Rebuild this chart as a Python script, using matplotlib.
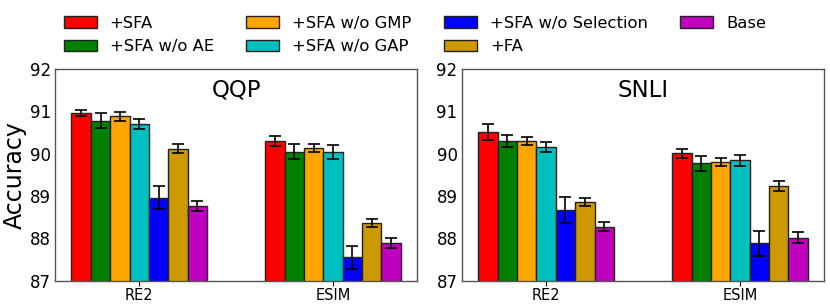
import numpy as np
import matplotlib
matplotlib.use('Agg')
import matplotlib.pyplot as plt

models = ['RE2', 'ESIM']
variants = ['+SFA', '+SFA w/o AE', '+SFA w/o GMP', '+SFA w/o GAP',
            '+SFA w/o Selection', '+FA', 'Base']
colors = ['#ff0000', '#008000', '#ffa500', '#00bfbf', '#0000ff', '#cc9900', '#bf00bf']

# accuracy per variant, [RE2, ESIM]
qqp_acc = [[90.96, 90.30], [90.78, 90.05], [90.88, 90.13], [90.70, 90.04],
           [88.96, 87.55], [90.12, 88.37], [88.77, 87.90]]
qqp_err = [[0.08, 0.11], [0.18, 0.18], [0.10, 0.10], [0.11, 0.16],
           [0.27, 0.27], [0.11, 0.09], [0.12, 0.12]]

snli_acc = [[90.51, 90.01], [90.30, 89.77], [90.30, 89.81], [90.16, 89.84],
            [88.67, 87.88], [88.86, 89.24], [88.28, 88.02]]
snli_err = [[0.18, 0.11], [0.14, 0.18], [0.10, 0.09], [0.11, 0.13],
            [0.30, 0.29], [0.10, 0.11], [0.11, 0.13]]

panels = [('QQP', qqp_acc, qqp_err), ('SNLI', snli_acc, snli_err)]


def draw_panel(ax, title, acc, err, width=0.1):
    x = np.arange(len(models))
    n = len(variants)
    handles = []
    for i in range(n):
        offs = (i - (n - 1) / 2) * width
        h = ax.bar(x + offs, acc[i], width, yerr=err[i], color=colors[i],
                   edgecolor='#222222', linewidth=1.0, capsize=4,
                   error_kw=dict(elinewidth=1.2, capthick=1.2, ecolor='black'),
                   label=variants[i])
        handles.append(h)
    ax.set_ylim(87, 92)
    ax.set_yticks([87, 88, 89, 90, 91, 92])
    ax.set_xticks(x)
    ax.set_xticklabels(models, fontsize=10.5)
    ax.tick_params(axis='y', labelsize=12, length=0, pad=3)
    ax.tick_params(axis='x', pad=2)
    ax.text(0.5, 0.9, title, transform=ax.transAxes, ha='center', va='center',
            fontsize=16.5)
    for s in ax.spines.values():
        s.set_color('#555555')
        s.set_linewidth(1.0)
    return handles


fig = plt.figure(figsize=(8.3, 3.06), dpi=100)
ax1 = fig.add_axes([0.0663, 0.0827, 0.4365, 0.6918])
ax2 = fig.add_axes([0.5563, 0.0827, 0.4369, 0.6918])

handles = draw_panel(ax1, *panels[0])
draw_panel(ax2, *panels[1])
ax1.set_ylabel('Accuracy', fontsize=17, labelpad=2)

fig.legend(handles, variants, loc='center', bbox_to_anchor=(0.5, 0.886),
           ncol=4, frameon=False, fontsize=11.75)

plt.savefig('out.png', dpi=100)
